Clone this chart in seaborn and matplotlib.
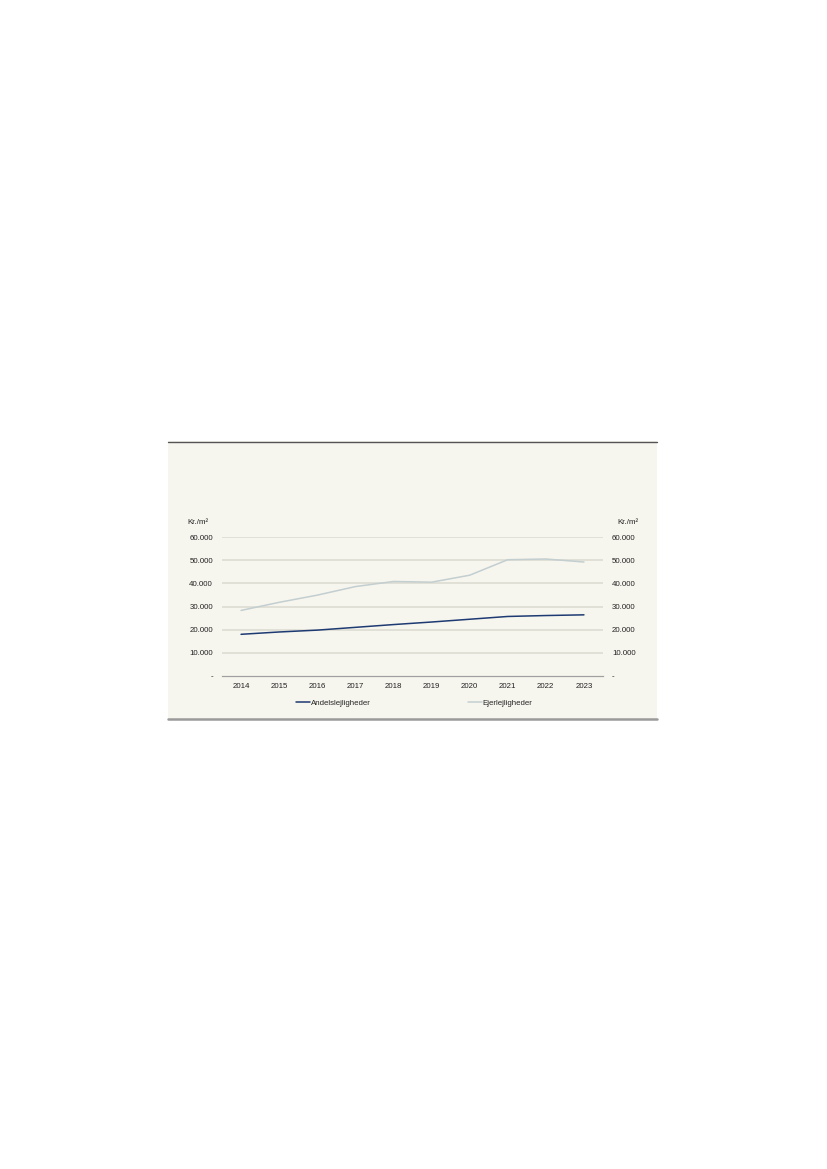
import matplotlib
matplotlib.use("Agg")
import matplotlib.pyplot as plt
import seaborn as sns
import pandas as pd
from matplotlib.patches import Rectangle
from matplotlib.lines import Line2D
from matplotlib.ticker import FuncFormatter

years = ["2014", "2015", "2016", "2017", "2018", "2019", "2020", "2021", "2022", "2023"]
andels = [18000, 19000, 19800, 21000, 22200, 23300, 24500, 25700, 26100, 26400]
ejer = [28300, 31800, 34900, 38600, 40800, 40500, 43500, 50200, 50500, 49200]
series_names = ["Andelslejligheder", "Ejerlejligheder"]
yticks = [0, 10000, 20000, 30000, 40000, 50000, 60000]
unit = "Kr./m²"

sns.set_theme(style="white")
plt.rcParams['font.family'] = ['Liberation Sans', 'DejaVu Sans']

W, H = 827, 1169
fig = plt.figure(figsize=(W / 100, H / 100), dpi=100)
fig.patch.set_facecolor("white")

FS = 5.7
bg = "#f7f6ee"
# panel background
fig.patches.append(Rectangle((168 / W, 1 - 719 / H), (657 - 168) / W, (719 - 441) / H,
                             transform=fig.transFigure, facecolor=bg, edgecolor="none", zorder=-5))
fig.lines.append(Line2D([168 / W, 657 / W], [1 - 441.5 / H] * 2, transform=fig.transFigure,
                        color="#555555", linewidth=1.0, zorder=-4))
fig.lines.append(Line2D([168 / W, 657 / W], [1 - 718.5 / H] * 2, transform=fig.transFigure,
                        color="#9a9a9a", linewidth=1.8, zorder=-4))

ax = fig.add_axes([222 / W, 1 - 676 / H, (603 - 222) / W, (676 - 537) / H])
ax.set_facecolor("none")

df = pd.DataFrame({"year": years * 2,
                   "value": andels + ejer,
                   "series": [series_names[0]] * len(years) + [series_names[1]] * len(years)})
palette = {series_names[0]: "#1d3a72", series_names[1]: "#c3ced0"}
sns.lineplot(data=df, x="year", y="value", hue="series", palette=palette, ax=ax,
             linewidth=1.1, legend=False, sort=False, zorder=3)

ax.set_xlim(-0.5, len(years) - 0.5)
ax.set_ylim(0, 60000)
ax.set_yticks(yticks)
fmt = FuncFormatter(lambda v, p: "-" if v == 0 else f"{int(v):,}".replace(",", "."))
ax.yaxis.set_major_formatter(fmt)
for v in yticks[1:]:
    ax.axhline(v, color="#dddcd3", linewidth=1.2, zorder=1)

for s in ["top", "left", "right"]:
    ax.spines[s].set_visible(False)
ax.spines["bottom"].set_color("#a0a0a0")
ax.spines["bottom"].set_linewidth(0.9)

ax.set_xticks(range(len(years)))
ax.set_xticklabels(years)
ax.set_xticks([i - 0.5 for i in range(len(years) + 1)], minor=True)
ax.tick_params(axis="x", which="major", length=0, labelsize=FS, pad=5, colors="#222222")
ax.tick_params(axis="x", which="minor", length=3, width=0.8, color="#a0a0a0", direction="out")
ax.tick_params(axis="y", which="major", length=0, labelsize=FS, pad=6.5, colors="#222222",
               left=False, labelleft=True)
ax.set_xlabel("")
ax.set_ylabel("")

ax2 = ax.twinx()
ax2.set_ylim(0, 60000)
ax2.set_yticks(yticks)
ax2.yaxis.set_major_formatter(fmt)
ax2.tick_params(axis="y", length=0, labelsize=FS, pad=6.5, colors="#222222")
for s in ax2.spines.values():
    s.set_visible(False)

fig.text(187 / W, 1 - 523 / H, unit, fontsize=FS, color="#222222", ha="left", va="center")
fig.text(639 / W, 1 - 523 / H, unit, fontsize=FS, color="#222222", ha="right", va="center")

# legend
handles = [Line2D([], [], color=palette[n], linewidth=1.1) for n in series_names]
fig.legend([handles[0]], [series_names[0]], loc="center left",
           bbox_to_anchor=(296 / W, 1 - 703 / H), frameon=False, fontsize=FS,
           handlelength=1.75, handletextpad=0.1, borderaxespad=0, borderpad=0)
fig.legend([handles[1]], [series_names[1]], loc="center left",
           bbox_to_anchor=(468 / W, 1 - 703 / H), frameon=False, fontsize=FS,
           handlelength=1.75, handletextpad=0.1, borderaxespad=0, borderpad=0)

fig.savefig("out.png", dpi=100, facecolor="white")
